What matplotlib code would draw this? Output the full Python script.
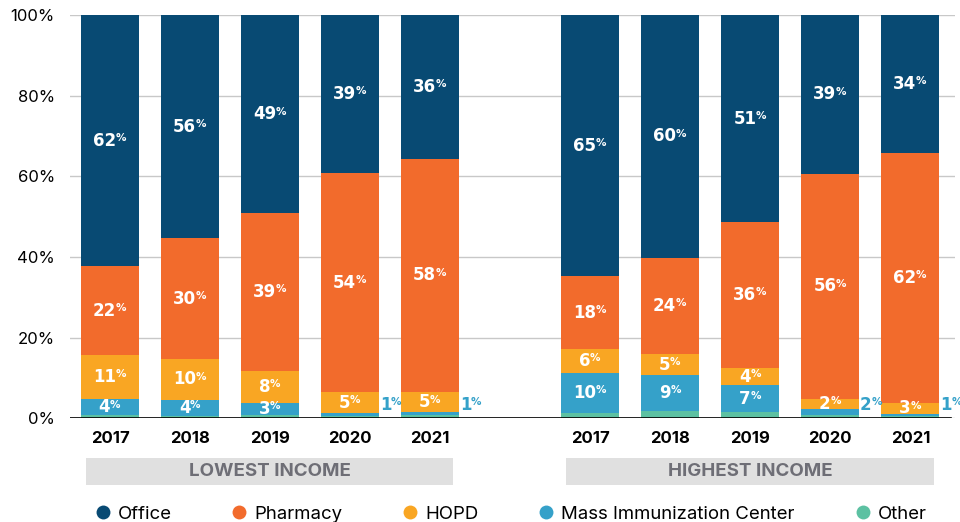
import numpy as np
import matplotlib
matplotlib.use("Agg")
import matplotlib.pyplot as plt
from matplotlib.patches import Rectangle
from matplotlib.lines import Line2D

plt.rcParams['font.family'] = ['Inter', 'DejaVu Sans']

years = ['2017', '2018', '2019', '2020', '2021']
groups = ['LOWEST INCOME', 'HIGHEST INCOME']
series = ['Office', 'Pharmacy', 'HOPD', 'Mass Immunization Center', 'Other']
colors = ['#084a73', '#f26b2c', '#f9a623', '#35a1c9', '#5cc1a2']

# lowest income
low_other = [0.7, 0.6, 0.8, 0.6, 0.7]
low_mass = [4, 4, 3, 0.6, 0.7]
low_hopd = [11, 10, 8, 5.3, 5]
low_pharm = [22, 30, 39, 54.3, 58]
low_office = [62.3, 56, 49.2, 39.2, 36]

# highest income
high_other = [1.2, 1.8, 1.5, 0.7, 0.5]
high_mass = [10, 9, 6.7, 1.6, 0.6]
high_hopd = [6, 5, 4.2, 2.4, 2.7]
high_pharm = [18, 24, 36.2, 56, 62]
high_office = [65, 60.2, 51.4, 39.3, 34.2]

x = np.array([0, 1, 2, 3, 4, 6, 7, 8, 9, 10])
other = np.array(low_other + high_other)
mass = np.array(low_mass + high_mass)
hopd = np.array(low_hopd + high_hopd)
pharm = np.array(low_pharm + high_pharm)
office = np.array(low_office + high_office)

fig = plt.figure(figsize=(9.6, 5.22), dpi=100)
ax = fig.add_axes([0.073, 0.199, 0.922, 0.772])

w = 0.725
stack = [other, mass, hopd, pharm, office]
order = [4, 3, 2, 1, 0]  # bottom to top
bottom = np.zeros(len(x))
bottoms = []
for vals, ci in zip(stack, order):
    ax.bar(x, vals, w, bottom=bottom, color=colors[ci], zorder=3)
    bottoms.append(bottom.copy())
    bottom = bottom + vals

lab_font = ['DejaVu Sans']


def pct_label(xp, yp, v, color='white', ha='center', dx=0):
    if ha == 'center':
        t = ax.annotate(f"{round(v)}", xy=(xp, yp), xytext=(-4 + dx, 0),
                        textcoords='offset points', ha='center', va='center',
                        color=color, fontsize=12, fontweight='bold',
                        family=lab_font, zorder=5)
    else:
        t = ax.annotate(f"{round(v)}", xy=(xp, yp), xytext=(dx, 0),
                        textcoords='offset points', ha='left', va='center',
                        color=color, fontsize=12, fontweight='bold',
                        family=lab_font, zorder=5)
    ax.annotate('%', xy=(1, 0.93), xycoords=t, xytext=(-0.3, 0),
                textcoords='offset points', ha='left', va='top',
                color=color, fontsize=7.5, fontweight='bold',
                family=lab_font, zorder=5)


for i, xp in enumerate(x):
    top = min(bottoms[4][i] + office[i], 100)
    pct_label(xp, (bottoms[4][i] + top) / 2, office[i])
    pct_label(xp, bottoms[3][i] + pharm[i] / 2, pharm[i])
    pct_label(xp, bottoms[2][i] + hopd[i] / 2, hopd[i])
    if mass[i] >= 3:
        pct_label(xp, bottoms[1][i] + mass[i] / 2, mass[i])
    else:
        pct_label(xp + w / 2, 3.2, mass[i], color=colors[3], ha='left', dx=0.5)

ax.set_xlim(-0.5, 10.56)
ax.set_ylim(0, 100)
ax.set_yticks([0, 20, 40, 60, 80, 100])
ax.set_yticklabels(['0%', '20%', '40%', '60%', '80%', '100%'], fontsize=12)
ax.yaxis.grid(True, color='#c8c8c8', linewidth=1, zorder=0)
ax.tick_params(axis='y', length=0, pad=11)
ax.set_xticks(x)
ax.set_xticklabels(years * 2, fontsize=12, fontweight='bold')
ax.tick_params(axis='x', length=0, pad=9)
for s in ax.spines.values():
    s.set_visible(False)
ax.axhline(0, color='black', linewidth=1.2, xmax=0.995, zorder=4)

# group boxes
trans = matplotlib.transforms.blended_transform_factory(ax.transData, ax.transAxes)
for g, x0 in zip(groups, [-0.3, 5.7]):
    ax.add_patch(Rectangle((x0, -0.167), 4.59, 0.067, transform=trans,
                           facecolor='#e0e0e0', edgecolor='none', clip_on=False))
    ax.text(x0 + 4.59 / 2, -0.1335, g, transform=trans, ha='center', va='center',
            fontsize=13.5, fontweight='bold', color='#6e6e76')

handles = [Line2D([], [], marker='o', linestyle='none', markersize=10,
                  markerfacecolor=c, markeredgecolor='none') for c in colors]
ax.legend(handles, series, loc='center', bbox_to_anchor=(0.497, -0.238), ncol=5,
          frameon=False, fontsize=13.4, handletextpad=0.3, columnspacing=3.15,
          handlelength=1.0)

fig.savefig('out.png', dpi=100)
